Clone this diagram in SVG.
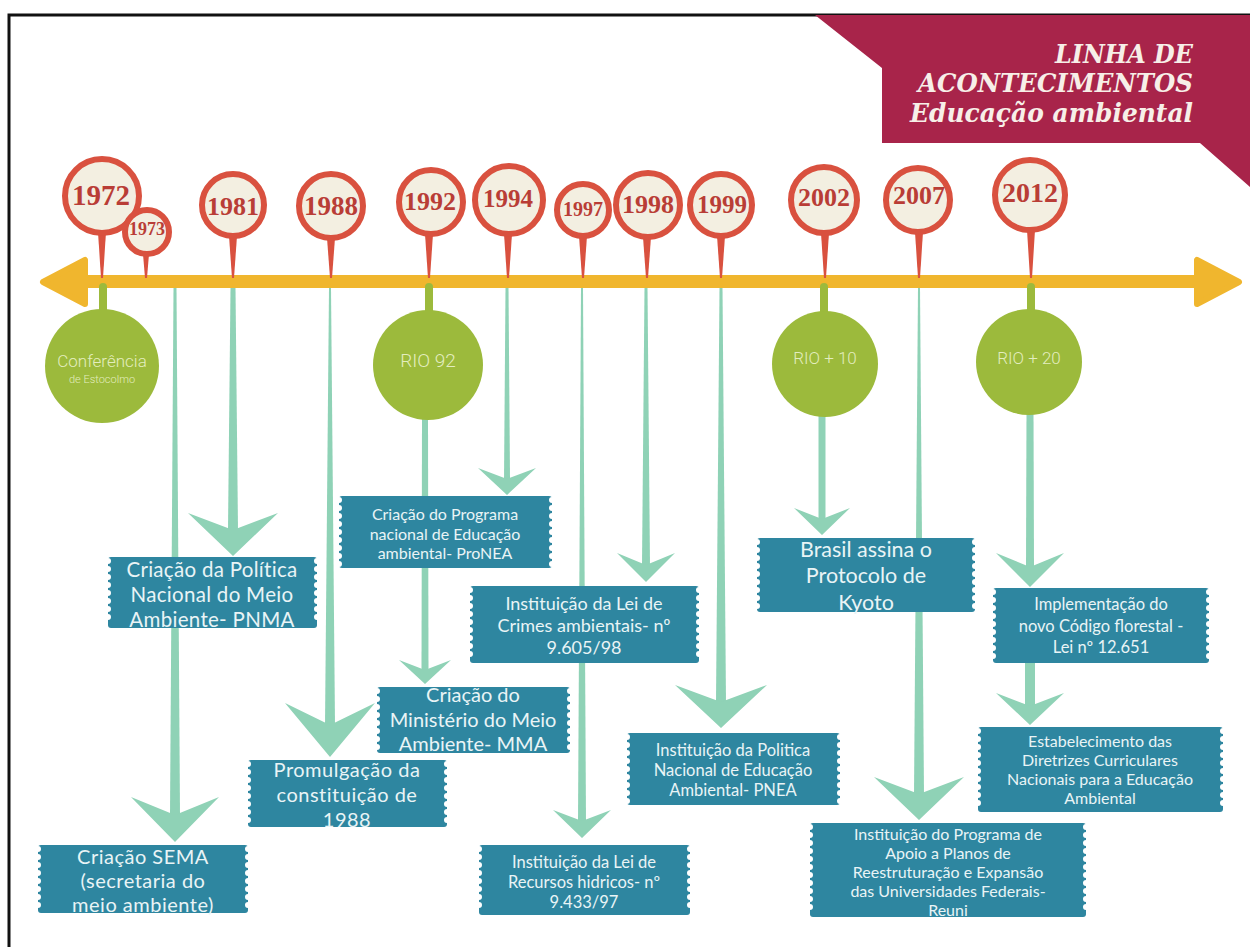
<svg xmlns="http://www.w3.org/2000/svg" width="1250" height="947" viewBox="0 0 1250 947">
<style>
.pin circle{fill:#F3EFE1;stroke:#D9513F;stroke-width:6}
.tail{fill:#D9513F}
.yr{font-family:"Liberation Serif",serif;font-weight:bold;fill:#B93D36;text-anchor:middle}
.gc{fill:#9CBA3C}
.gt{font-family:Roboto,"Liberation Sans",sans-serif;font-weight:300;fill:#E3EDBF;text-anchor:middle}
.con polygon{fill:#8FD2B6}
.bx{fill:#2E86A0}
.notch{stroke:#fff;stroke-width:6;stroke-linecap:round;stroke-dasharray:0 8;fill:none}
.bt{font-family:Lato,"Noto Sans",sans-serif;fill:#E9F4F6;text-anchor:middle}
.ttl{font-family:"DejaVu Serif",serif;font-weight:bold;font-style:italic;fill:#F7EFE8}
</style>
<rect width="1250" height="947" fill="#fff"/>
<path d="M9 947 V15 H1250" fill="none" stroke="#111" stroke-width="3"/>

<g id="title">
<polygon points="815,15 1250,15 1250,187 1200,143 882,143 882,68" fill="#A8244A"/>
<text class="ttl" x="1055" y="63" font-size="26" textLength="138" lengthAdjust="spacingAndGlyphs">LINHA DE</text>
<text class="ttl" x="918" y="92" font-size="26" textLength="275" lengthAdjust="spacingAndGlyphs">ACONTECIMENTOS</text>
<text class="ttl" x="910" y="122" font-size="26" textLength="283" lengthAdjust="spacingAndGlyphs">Educação ambiental</text>
</g>

<g id="connectors" class="con">
<polygon points="173.5,288 176.5,288 180,815 170,815"/><polygon points="131,797 175,815 219,797 175,842"/>
<polygon points="230.5,288 235.5,288 238,530 228,530"/><polygon points="188,513 233,530 278,513 233,556"/>
<polygon points="329,288 331,288 335,725 325,725"/><polygon points="285,703 330,725 375,703 330,757"/>
<polygon points="422,418 428,418 428.5,670 421.5,670"/><polygon points="399,660 425,670 451,660 425,684"/>
<polygon points="505.5,288 508.5,288 510,480 504,480"/><polygon points="478,468 507,479 536,468 507,495"/>
<polygon points="581,288 583,288 586,822 578,822"/><polygon points="553,810 582,821 611,810 582,838"/>
<polygon points="644.5,288 647.5,288 650,566 642,566"/><polygon points="617,553 646,565 675,553 646,582"/>
<polygon points="719.5,288 722.5,288 726,703 716,703"/><polygon points="675,685 721,702 767,685 721,728"/>
<polygon points="818.5,414 825.5,414 825.5,519 818.5,519"/><polygon points="794,508 822,519 850,508 822,535"/>
<polygon points="918,288 920,288 924,795 914,795"/><polygon points="874,777 919,794 964,777 919,820"/>
<polygon points="1026.5,412 1033.5,412 1034,567 1026,567"/><polygon points="996,553 1030,567 1064,553 1030,587"/>
<polygon points="1025,660 1035,660 1035,706 1025,706"/><polygon points="996,693 1030,706 1064,693 1030,725"/>
</g>

<g id="timeline">
<rect x="80" y="275" width="1120" height="13" fill="#F0B62E"/>
<polygon points="43,282 85,260 85,304" fill="#F0B62E" stroke="#F0B62E" stroke-width="6" stroke-linejoin="round"/>
<polygon points="1239,282 1197,260 1197,304" fill="#F0B62E" stroke="#F0B62E" stroke-width="6" stroke-linejoin="round"/>
</g>

<g id="g-conferencia">
<rect x="99" y="283" width="8" height="35" rx="4" class="gc"/>
<circle cx="102" cy="366" r="57" class="gc"/>
<text class="gt" x="102" y="367" font-size="17">Conferência</text>
<text class="gt" x="102" y="383" font-size="11">de Estocolmo</text>
</g>
<g id="g-rio92">
<rect x="425" y="283" width="8" height="35" rx="4" class="gc"/>
<circle cx="428" cy="365" r="55" class="gc"/>
<text class="gt" x="428" y="367" font-size="19">RIO 92</text>
</g>
<g id="g-rio10">
<rect x="820" y="283" width="8" height="35" rx="4" class="gc"/>
<circle cx="825" cy="364" r="53" class="gc"/>
<text class="gt" x="825" y="364" font-size="17">RIO + 10</text>
</g>
<g id="g-rio20">
<rect x="1027" y="283" width="8" height="35" rx="4" class="gc"/>
<circle cx="1029" cy="362" r="53" class="gc"/>
<text class="gt" x="1029" y="364" font-size="17">RIO + 20</text>
</g>

<g id="pin-1972" class="pin"><polygon class="tail" points="98,232 106,232 103,278 101,278"/><circle cx="102" cy="196" r="37"/><text class="yr" x="101" y="205" font-size="29">1972</text></g>
<g id="pin-1973" class="pin"><polygon class="tail" points="143,254 149,254 147,278 145,278"/><circle cx="147" cy="232" r="22"/><text class="yr" x="147" y="235" font-size="18">1973</text></g>
<g id="pin-1981" class="pin"><polygon class="tail" points="229,236 237,236 234,278 232,278"/><circle cx="233" cy="205" r="31"/><text class="yr" x="233" y="215" font-size="26">1981</text></g>
<g id="pin-1988" class="pin"><polygon class="tail" points="327,238 335,238 332,278 330,278"/><circle cx="331" cy="206" r="32"/><text class="yr" x="331" y="215" font-size="27">1988</text></g>
<g id="pin-1992" class="pin"><polygon class="tail" points="425,234 433,234 430,278 428,278"/><circle cx="431" cy="202" r="32"/><text class="yr" x="430" y="210" font-size="26">1992</text></g>
<g id="pin-1994" class="pin"><polygon class="tail" points="504,234 512,234 509,278 507,278"/><circle cx="509" cy="200" r="34"/><text class="yr" x="508" y="207" font-size="25">1994</text></g>
<g id="pin-1997" class="pin"><polygon class="tail" points="579,236 587,236 584,278 582,278"/><circle cx="583" cy="210" r="26"/><text class="yr" x="583" y="216" font-size="20">1997</text></g>
<g id="pin-1998" class="pin"><polygon class="tail" points="643,237 651,237 648,278 646,278"/><circle cx="648" cy="205" r="32"/><text class="yr" x="648" y="213" font-size="26">1998</text></g>
<g id="pin-1999" class="pin"><polygon class="tail" points="717,236 725,236 722,278 720,278"/><circle cx="721" cy="205" r="31"/><text class="yr" x="722" y="213" font-size="25">1999</text></g>
<g id="pin-2002" class="pin"><polygon class="tail" points="821,233 829,233 826,278 824,278"/><circle cx="824" cy="200" r="33"/><text class="yr" x="824" y="206" font-size="26">2002</text></g>
<g id="pin-2007" class="pin"><polygon class="tail" points="915,232 923,232 920,278 918,278"/><circle cx="918" cy="200" r="32"/><text class="yr" x="919" y="204" font-size="26">2007</text></g>
<g id="pin-2012" class="pin"><polygon class="tail" points="1027,230 1035,230 1032,278 1030,278"/><circle cx="1030" cy="195" r="35"/><text class="yr" x="1030" y="202" font-size="28">2012</text></g>

<g id="box-pnma">
<rect class="bx" x="108" y="557" width="209" height="71" rx="3"/>
<path class="notch" d="M108 561V625M317 561V625"/>
<text class="bt" font-size="20.5" letter-spacing="0.3"><tspan x="212" y="577">Criação da Política</tspan><tspan x="212" y="602">Nacional do Meio</tspan><tspan x="212" y="627">Ambiente- PNMA</tspan></text>
</g>
<g id="box-sema">
<rect class="bx" x="38" y="845" width="210" height="68" rx="3"/>
<path class="notch" d="M38 849V910M248 849V910"/>
<text class="bt" font-size="20" letter-spacing="0.5"><tspan x="143" y="864">Criação SEMA</tspan><tspan x="143" y="888">(secretaria do</tspan><tspan x="143" y="912">meio ambiente)</tspan></text>
</g>
<g id="box-pronea">
<rect class="bx" x="339" y="496" width="213" height="72" rx="3"/>
<path class="notch" d="M339 500V565M552 500V565"/>
<text class="bt" font-size="16"><tspan x="445" y="520">Criação do Programa</tspan><tspan x="445" y="540">nacional de Educação</tspan><tspan x="445" y="559">ambiental- ProNEA</tspan></text>
</g>
<g id="box-mma">
<rect class="bx" x="377" y="687" width="193" height="66" rx="3"/>
<path class="notch" d="M377 691V750M570 691V750"/>
<text class="bt" font-size="20"><tspan x="473" y="702">Criação do</tspan><tspan x="473" y="727">Ministério do Meio</tspan><tspan x="473" y="751">Ambiente- MMA</tspan></text>
</g>
<g id="box-constituicao">
<rect class="bx" x="248" y="760" width="199" height="67" rx="3"/>
<path class="notch" d="M248 764V824M447 764V824"/>
<text class="bt" font-size="20" letter-spacing="0.5"><tspan x="347" y="777">Promulgação da</tspan><tspan x="347" y="802">constituição de</tspan><tspan x="347" y="827">1988</tspan></text>
</g>
<g id="box-crimes">
<rect class="bx" x="470" y="586" width="229" height="77" rx="3"/>
<path class="notch" d="M470 590V660M699 590V660"/>
<text class="bt" font-size="18"><tspan x="584" y="610">Instituição da Lei de</tspan><tspan x="584" y="632">Crimes ambientais- nº</tspan><tspan x="584" y="654">9.605/98</tspan></text>
</g>
<g id="box-recursos">
<rect class="bx" x="479" y="845" width="211" height="70" rx="3"/>
<path class="notch" d="M479 849V912M690 849V912"/>
<text class="bt" font-size="16.5"><tspan x="584" y="868">Instituição da Lei  de</tspan><tspan x="584" y="888">Recursos hidricos- nº</tspan><tspan x="584" y="908">9.433/97</tspan></text>
</g>
<g id="box-pnea">
<rect class="bx" x="627" y="733" width="213" height="72" rx="3"/>
<path class="notch" d="M627 737V802M840 737V802"/>
<text class="bt" font-size="16.5"><tspan x="733" y="756">Instituição da Politica</tspan><tspan x="733" y="776">Nacional de Educação</tspan><tspan x="733" y="796">Ambiental- PNEA</tspan></text>
</g>
<g id="box-kyoto">
<rect class="bx" x="757" y="538" width="218" height="74" rx="3"/>
<path class="notch" d="M757 542V609M975 542V609"/>
<text class="bt" font-size="21.5"><tspan x="866" y="557">Brasil assina o</tspan><tspan x="866" y="583">Protocolo de</tspan><tspan x="866" y="610">Kyoto</tspan></text>
</g>
<g id="box-reuni">
<rect class="bx" x="810" y="823" width="276" height="94" rx="3"/>
<path class="notch" d="M810 827V914M1086 827V914"/>
<text class="bt" font-size="16"><tspan x="948" y="840">Instituição do Programa de</tspan><tspan x="948" y="859">Apoio a Planos de</tspan><tspan x="948" y="878">Reestruturação e Expansão</tspan><tspan x="948" y="897">das Universidades Federais-</tspan><tspan x="948" y="916">Reuni</tspan></text>
</g>
<g id="box-codigo">
<rect class="bx" x="993" y="588" width="216" height="75" rx="3"/>
<path class="notch" d="M993 592V660M1209 592V660"/>
<text class="bt" font-size="16.5"><tspan x="1101" y="610">Implementação do</tspan><tspan x="1101" y="632">novo Código florestal -</tspan><tspan x="1101" y="653">Lei nº 12.651</tspan></text>
</g>
<g id="box-diretrizes">
<rect class="bx" x="978" y="727" width="245" height="85" rx="3"/>
<path class="notch" d="M978 731V809M1223 731V809"/>
<text class="bt" font-size="16"><tspan x="1100" y="747">Estabelecimento das</tspan><tspan x="1100" y="766">Diretrizes Curriculares</tspan><tspan x="1100" y="785">Nacionais para a Educação</tspan><tspan x="1100" y="804">Ambiental</tspan></text>
</g>
</svg>
